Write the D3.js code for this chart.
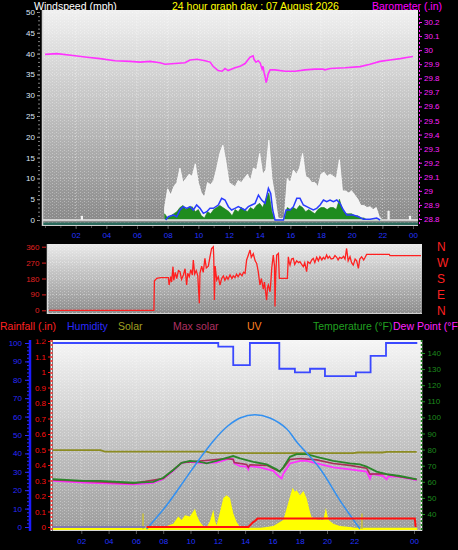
<!DOCTYPE html>
<html><head><meta charset="utf-8">
<script src="https://cdn.jsdelivr.net/npm/d3@7"></script>
<style>html,body{margin:0;padding:0;background:#000;}svg{display:block;}</style>
</head><body>
<svg id="chart" width="458" height="550"></svg>
<script>
// ---------------- DATA ----------------
const titleLeft = "Windspeed (mph)";
const titleCenter = "24 hour graph day : 07 August 2026";
const titleRight = "Barometer (.in)";

const hourTicks = [2,4,6,8,10,12,14,16,18,20,22,24];
const windTicks = [0,5,10,15,20,25,30,35,40,45,50];
const baroTicks = [28.8,28.9,29.0,29.1,29.2,29.3,29.4,29.5,29.6,29.7,29.8,29.9,30.0,30.1,30.2];
const dirTicks = [0,90,180,270,360];
const compassDegrees = [360,270,180,90,0];
const compassLabels = ["N","W","S","E","N"];
const humTicks = [0,10,20,30,40,50,60,70,80,90,100];
const rainTicks = [0,0.1,0.2,0.3,0.4,0.5,0.6,0.7,0.8,0.9,1.0,1.1,1.2];
const tempTicks = [40,50,60,70,80,90,100,110,120,130,140];
const legendLabels = ["Rainfall (.in)","Humidity","Solar","Max solar","UV","Temperature (°F)","Dew Point (°F"];

// Barometer (inHg)
const baroHours = [0,0.78,1.96,2.74,3.59,4.57,5.54,6.2,6.85,7.5,7.83,8.48,9.13,9.46,9.92,10.44,10.77,10.96,11.29,11.55,11.74,11.94,12.39,12.72,13.05,13.37,13.57,13.63,13.76,13.9,14.03,14.16,14.22,14.29,14.35,14.42,14.48,14.55,14.68,15.0,15.66,16.31,16.96,17.61,18.13,18.26,18.6,19.57,20.55,21.2,21.85,22.5,23.16,23.68,24.0];
const baroValues = [29.97,29.975,29.96,29.95,29.94,29.925,29.92,29.915,29.92,29.91,29.90,29.905,29.91,29.93,29.935,29.925,29.915,29.885,29.855,29.85,29.87,29.855,29.875,29.885,29.905,29.95,29.96,29.935,29.915,29.925,29.91,29.865,29.885,29.84,29.815,29.77,29.79,29.83,29.86,29.86,29.85,29.85,29.86,29.865,29.865,29.86,29.87,29.875,29.883,29.90,29.92,29.93,29.94,29.95,29.955];

// Wind gust / speed, sampled every 0.2 h starting 07:48
const windStart = 7.8, windStep = 0.2;
const gustValues = [3,7.5,6,8,9,12.5,9,10,11,10.5,13.5,9,6.5,5.5,9,8.5,9.5,12.5,16,18,14,9,8.5,8,9.5,9,10,11,9.5,12.5,12,16,11,12,19.2,10,5.5,0.5,0.3,0.5,10,9,12,11,12.5,16,10.5,10,9,9,8,11,11.5,10.5,11,10.5,10,14.5,7,7,6.5,7,6,5,3.5,3.5,3,3.2,2.5,3,0.8,0];
const speedValues = [1.5,0.5,1,1.5,2,3,3.5,2.5,3,3.2,2,2.5,1,0.5,2,1.5,2.5,3,3.5,3,2.5,2,1,2.5,2,3,2.5,2,3,2.5,3.5,4,3,5,6.5,2,0,0,0,0,3,2.5,3,2.5,3.5,3,2,2.5,2,1.5,2.5,3,3,2.5,3,3,2.5,5,2.5,1.5,1.5,1.5,1,1,0.5,0.5,0,0,0,0,0,0];
const gustExtraHours = [2.4,22.4,23.8];
const gustExtraValues = [1,2.2,1];

// Average wind speed
const avgHours = [7.87,8.04,8.37,8.59,8.8,9.02,9.24,9.46,9.67,9.89,10.11,10.33,10.55,10.76,10.98,11.3,11.52,11.74,11.96,12.17,12.39,12.61,12.83,13.04,13.26,13.48,13.7,13.92,14.13,14.35,14.57,14.72,14.85,15.0,15.55,15.72,15.98,16.2,16.42,16.63,16.85,17.07,17.29,17.5,17.72,17.94,18.16,18.37,18.59,18.81,19.03,19.24,19.46,19.68,20.1,20.44,20.76,21.2,21.63,21.85];
const avgValues = [0,0.8,1.2,0.8,2.4,3.2,2.8,3.2,2.4,3.6,2.8,1.6,2,2.8,2.8,3.6,5.2,4.8,3.2,2.4,2.8,3.2,2.8,2.4,3.2,3.6,4,6,4.8,4,7.6,6.4,2.4,0,0,2.4,2.4,3.2,5.2,5.2,3.6,3.2,2.8,2.4,2.8,3.6,4.8,4.4,4.8,4.4,4.8,4,2.4,1.2,1.2,0.8,0.2,0.2,0.5,0];

// Wind direction (degrees)
const dirHours = [0,6.77,6.8,6.95,7.2,7.7,7.75,7.85,7.91,8.0,8.05,8.15,8.24,8.35,8.45,8.55,8.67,8.78,8.88,8.95,9.05,9.15,9.25,9.31,9.4,9.5,9.6,9.7,9.74,9.85,9.95,10.06,10.15,10.28,10.38,10.49,10.6,10.63,10.67,10.72,10.82,10.92,11.03,11.14,11.25,11.35,11.46,11.55,11.68,11.8,11.89,12.0,12.1,12.2,12.32,12.45,12.55,12.65,12.75,12.85,12.97,13.05,13.18,13.3,13.4,13.5,13.61,13.7,13.83,13.9,14.04,14.1,14.15,14.26,14.32,14.37,14.47,14.55,14.58,14.63,14.69,14.8,14.86,15.38,15.44,15.5,15.55,15.65,15.76,15.85,15.98,16.1,16.19,16.3,16.41,16.5,16.62,16.7,16.84,16.95,17.05,17.15,17.27,17.38,17.48,17.6,17.7,17.8,17.91,18.0,18.1,18.2,18.34,18.45,18.56,18.65,18.75,18.88,19.0,19.1,19.2,19.3,19.42,19.52,19.63,19.75,19.85,19.96,20.05,20.17,20.3,20.4,20.49,21.95,22.0,24];
const dirValues = [0,0,166,181,185,185,143,190,160,247,170,215,180,225,219,175,200,235,143,210,190,230,200,285,205,225,195,40,210,250,215,294,240,250,300,350,360,300,58,250,171,190,143,180,195,170,190,175,200,180,195,185,205,190,209,195,215,209,285,310,341,300,320,280,265,219,143,180,120,160,58,130,143,105,170,237,313,250,21,200,313,322,181,181,303,270,256,290,294,260,280,270,275,260,247,270,219,275,265,285,294,270,300,280,303,285,300,290,313,295,305,290,294,310,300,285,300,294,305,290,350,280,303,270,256,290,280,237,290,303,285,300,316,316,309,309];

// Humidity (%)
const humHours = [0,10.85,11.82,12.9,14.81,15.82,16.8,17.77,19.78,20.73,21.73,23.76];
const humValues = [100,98,88,100,86,84,86,82,84,93,100,100];

// Rainfall (in)
const rainHours = [6.2,12.8,12.9,13.0,13.1,13.25,13.4,23.6,23.65];
const rainValues = [0,0,0.01,0.02,0.03,0.04,0.055,0.055,0];
const nightHours = [0,6.1];
const nightValues = [0,0];

// Solar radiation (W/m2)
const solarHours = [6.2,6.85,7.5,7.93,8.15,8.26,8.47,8.69,9.01,9.34,9.45,9.66,9.88,10.1,10.31,10.53,10.64,10.74,10.85,10.96,11.18,11.39,11.61,11.82,12.04,12.26,12.69,13.12,13.99,14.42,14.85,15.07,15.28,15.5,15.67,15.82,15.93,16.15,16.37,16.58,16.8,16.9,17.23,17.66,17.83,17.99,18.31,18.74,19.39,20.04];
const solarValues = [0,6,19,34,66,80,58,88,80,131,90,45,19,13,50,124,55,25,66,110,200,217,200,101,45,13,0,0,13,19,45,58,131,208,266,240,250,217,245,198,110,77,62,58,135,60,34,19,13,0];
const solarBaseHours = [0,23.76];
const solarBaseValues = [0,0];
const sunHours = [5.97,20.17];
const sunMarkerValue = 100;

// Max solar (W/m2)
const maxSolarHours = [6.2,7.5,8.8,9.66,10.53,11.39,12.26,13.23,14.2,15.28,15.93,17.44,18.74,20.04];
const maxSolarValues = [0,153,335,455,568,658,716,737,716,647,563,390,185,0];

// Temperatures (°F)
const tempHours = [0.04,2.1,3.18,5.34,6.64,7.28,7.93,8.47,9.01,9.66,10.1,10.74,11.39,11.82,12.26,13.12,13.99,14.63,14.85,15.07,15.5,15.93,16.58,17.23,18.31,19.39,20.04,20.47,21.12,21.77,22.63,23.72];
const tempValues = [61.7,60.6,60.6,59.4,60,62.5,67.3,71.8,73,72.4,71.4,73,74.9,76,74.5,72.4,70.8,67.7,66.3,69,75.5,77.2,77.2,75.5,73,71.4,70.8,69.4,66.3,64.8,63.6,61.5];
const dewHours = [0.04,2.1,5.34,6.64,7.28,7.93,8.47,9.01,9.66,10.74,11.61,11.82,11.89,12.26,12.69,12.8,12.86,13.55,14.42,14.81,14.96,15.07,15.5,16.15,16.58,17.23,18.31,19.39,20.47,20.69,20.8,21.55,21.77,21.88,22.63,23.72];
const dewValues = [60.6,59.5,58.4,59.4,61.7,66.8,71.8,72.4,71.8,72,74.5,74,71.4,69.8,69.4,67.7,69.8,69,66.8,63.1,62,65,71.4,73,73,71.4,69,67.7,66.3,62,65,63.6,61.5,63.4,63.1,61.1];
const feelHours = [0.04,5.34,7.28,8.47,11.39,11.82,11.89,12.69,12.8,12.91,13.99,14.81,15.07,15.5,16.15,17.23,18.31,19.39,20.47,20.69,21.55,22.63,23.72];
const feelValues = [61.2,59,62,71.8,74.5,73.9,72,70.8,69,70.5,70.2,66.3,68.5,73.9,74.5,73.6,71.4,70.2,68.5,64.8,65,63.1,61.5];
const oliveHours = [0.04,3.2,3.5,10.1,10.4,19.6,19.9,21.5,21.8,23.72];
const oliveValues = [79.7,79.7,78.8,78.8,77.8,77.8,78.2,78.2,78.6,78.6];

// ---------------- DRAWING ----------------
const FONT = '"Liberation Sans", Arial, Helvetica, sans-serif';
const svg = d3.select("#chart").attr("font-family", FONT);
const defs = svg.append("defs");
function grad(id, stops) {
  const g = defs.append("linearGradient").attr("id", id)
    .attr("x1", 0).attr("y1", 0).attr("x2", 0).attr("y2", 1);
  stops.forEach(([o, c]) => g.append("stop").attr("offset", o).attr("stop-color", c));
}
grad("bg1", [[0, "#f0f0f0"], [0.45, "#c2c2c2"], [1, "#878787"]]);
grad("bg2", [[0, "#eaeaea"], [1, "#8c8c8c"]]);
grad("bg3", [[0, "#f6f6f6"], [0.5, "#c6c6c6"], [1, "#9c9c9c"]]);
// subtle dotted texture
const pat = defs.append("pattern").attr("id", "dots").attr("width", 4).attr("height", 3).attr("patternUnits", "userSpaceOnUse");
pat.append("rect").attr("x", 0).attr("y", 0).attr("width", 1).attr("height", 1).attr("fill", "#ffffff").attr("fill-opacity", 0.35);
pat.append("rect").attr("x", 2).attr("y", 1).attr("width", 1).attr("height", 1).attr("fill", "#ffffff").attr("fill-opacity", 0.2);
function clip(id, p) {
  defs.append("clipPath").attr("id", id).append("rect")
    .attr("x", p.l).attr("y", p.t).attr("width", p.r - p.l).attr("height", p.b - p.t);
}
const P1 = {l: 42, r: 418, t: 10, b: 226};
const P2 = {l: 47, r: 422, t: 244, b: 314};
const P3 = {l: 53, r: 421, t: 340, b: 531};
clip("c1", P1); clip("c2", P2); clip("c3", P3);
// rain axis group is translated by 50px; clip in its local coordinates
defs.append("clipPath").attr("id", "cRain").append("rect")
  .attr("x", -50).attr("y", 339.5).attr("width", 60).attr("height", 220);

const hourFmt = d => String(d % 24).padStart(2, "0");
const oneDec = d => String(Math.round(d * 10) / 10);
function plain(g, size, color) {
  g.attr("font-size", size).attr("font-family", FONT);
  g.select(".domain").remove();
  g.selectAll(".tick text").attr("fill", color);
  return g;
}
function panelBg(p, fill) {
  svg.append("rect").attr("x", p.l).attr("y", p.t).attr("width", p.r - p.l).attr("height", p.b - p.t).attr("fill", fill);
  svg.append("rect").attr("x", p.l).attr("y", p.t).attr("width", p.r - p.l).attr("height", p.b - p.t).attr("fill", "url(#dots)");
}

// Titles
svg.append("text").attr("x", 34).attr("y", 9.5).attr("font-size", 10.5).attr("fill", "#ffffff").text(titleLeft);
svg.append("text").attr("x", 172).attr("y", 9.5).attr("font-size", 10.5).attr("fill", "#ffff00").text(titleCenter);
svg.append("text").attr("x", 372).attr("y", 9.5).attr("font-size", 10.5).attr("fill", "#ff00ff").text(titleRight);

// ===== Panel 1: wind + barometer =====
const x1 = d3.scaleLinear().domain([0, 24]).range([45, 413]);
const yW = d3.scaleLinear().domain([0, 50]).range([220, 12]);
const yB = d3.scaleLinear().domain([28.8, 30.2]).range([219, 22]);

panelBg(P1, "url(#bg1)");
const p1 = svg.append("g").attr("clip-path", "url(#c1)");
p1.selectAll("line.hg").data(windTicks.slice(1)).join("line")
  .attr("x1", P1.l).attr("x2", P1.r).attr("y1", d => yW(d)).attr("y2", d => yW(d))
  .attr("stroke", "#ffffff").attr("stroke-opacity", 0.35).attr("stroke-dasharray", "1,2");
p1.selectAll("line.vg").data(hourTicks.slice(0, -1)).join("line")
  .attr("x1", d => x1(d)).attr("x2", d => x1(d)).attr("y1", P1.t).attr("y2", P1.b)
  .attr("stroke", "#ffffff").attr("stroke-opacity", 0.45).attr("stroke-dasharray", "1,2");

const windData = gustValues.map((g, i) => ({h: windStart + i * windStep, g, s: speedValues[i]}));
p1.append("path").datum(windData)
  .attr("d", d3.area().x(d => x1(d.h)).y0(yW(0)).y1(d => yW(d.g)))
  .attr("fill", "#f4f4f4").attr("stroke", "#ffffff").attr("stroke-width", 0.8);
p1.selectAll("rect.gx").data(gustExtraHours.map((h, i) => ({h, g: gustExtraValues[i]}))).join("rect")
  .attr("x", d => x1(d.h) - 1).attr("width", 2.2)
  .attr("y", d => yW(d.g)).attr("height", d => yW(0) - yW(d.g)).attr("fill", "#f4f4f4");
p1.append("path").datum(windData)
  .attr("d", d3.area().x(d => x1(d.h)).y0(yW(0)).y1(d => yW(d.s)))
  .attr("fill", "#1f8c1f").attr("stroke", "#1a7a1a").attr("stroke-width", 0.6);
// zero line and bottom strip
p1.append("line").attr("x1", P1.l).attr("x2", P1.r).attr("y1", yW(0)).attr("y2", yW(0))
  .attr("stroke", "#e6e6e6").attr("stroke-width", 1.6);
p1.append("rect").attr("x", P1.l).attr("width", P1.r - P1.l).attr("y", yW(0) + 2.5).attr("height", 3).attr("fill", "#2b6a5c");
// average line
p1.append("path").datum(avgHours.map((h, i) => [h, avgValues[i]]))
  .attr("d", d3.line().x(d => x1(d[0])).y(d => yW(d[1])))
  .attr("fill", "none").attr("stroke", "#2a3cff").attr("stroke-width", 1.5);
// barometer
p1.append("path").datum(baroHours.map((h, i) => [h, baroValues[i]]))
  .attr("d", d3.line().x(d => x1(d[0])).y(d => yB(d[1])))
  .attr("fill", "none").attr("stroke", "#ff33ff").attr("stroke-width", 1.6);
// borders
svg.append("line").attr("x1", P1.l + 0.5).attr("x2", P1.l + 0.5).attr("y1", P1.t).attr("y2", P1.b).attr("stroke", "#d4d4d4").attr("stroke-width", 1.5);
svg.append("line").attr("x1", P1.l).attr("x2", P1.r).attr("y1", P1.b - 0.5).attr("y2", P1.b - 0.5).attr("stroke", "#d0d0d0");

// axes panel 1
const a1 = svg.append("g").attr("transform", "translate(40,0)")
  .call(d3.axisLeft(yW).tickValues(windTicks).tickSize(3).tickPadding(2));
plain(a1, 8, "#dde6f7");
a1.selectAll(".tick line").attr("stroke", "#a0a0a0");
svg.append("g").attr("transform", "translate(40,0)")
  .call(d3.axisLeft(yW).ticks(50).tickSize(2).tickFormat(""))
  .call(g => g.select(".domain").remove()).selectAll("line").attr("stroke", "#808080");
const b1 = svg.append("g").attr("transform", "translate(419,0)")
  .call(d3.axisRight(yB).tickValues(baroTicks).tickSize(3).tickPadding(2).tickFormat(oneDec));
plain(b1, 8, "#ff22ff");
b1.selectAll(".tick line").attr("stroke", "#ff22ff");
svg.append("line").attr("x1", 419.5).attr("x2", 419.5).attr("y1", P1.t).attr("y2", P1.b)
  .attr("stroke", "#ff22ff").attr("stroke-dasharray", "2,2");
const xa1 = svg.append("g").attr("transform", `translate(0,${P1.b})`)
  .call(d3.axisBottom(x1).tickValues(hourTicks).tickSize(3).tickPadding(3.5).tickFormat(hourFmt));
plain(xa1, 8, "#2233ff");
xa1.selectAll(".tick line").attr("stroke", "#555");
svg.append("g").attr("transform", `translate(0,${P1.b})`)
  .call(d3.axisBottom(x1).ticks(24).tickSize(2).tickFormat(""))
  .call(g => g.select(".domain").remove()).selectAll("line").attr("stroke", "#444");

// ===== Panel 2: wind direction =====
const x2 = d3.scaleLinear().domain([0, 24]).range([49, 421]);
const yD = d3.scaleLinear().domain([0, 360]).range([310.3, 246.7]);
panelBg(P2, "url(#bg2)");
const p2 = svg.append("g").attr("clip-path", "url(#c2)");
p2.selectAll("line.hg").data(dirTicks.slice(1, -1)).join("line")
  .attr("x1", P2.l).attr("x2", P2.r).attr("y1", d => yD(d)).attr("y2", d => yD(d))
  .attr("stroke", "#ffffff").attr("stroke-opacity", 0.35).attr("stroke-dasharray", "1,2");
p2.append("path").datum(dirHours.map((h, i) => [h, dirValues[i]]))
  .attr("d", d3.line().x(d => x2(d[0])).y(d => yD(d[1])))
  .attr("fill", "none").attr("stroke", "#ff2020").attr("stroke-width", 1.3);
svg.append("line").attr("x1", P2.l + 0.5).attr("x2", P2.l + 0.5).attr("y1", P2.t).attr("y2", P2.b).attr("stroke", "#d8d8d8").attr("stroke-width", 1.5);
svg.append("line").attr("x1", P2.l).attr("x2", P2.r).attr("y1", P2.b - 0.5).attr("y2", P2.b - 0.5).attr("stroke", "#d0d0d0");
const a2 = svg.append("g").attr("transform", "translate(46,0)")
  .call(d3.axisLeft(yD).tickValues(dirTicks).tickSize(4).tickPadding(2.5));
plain(a2, 8, "#e02020");
a2.selectAll(".tick line").attr("stroke", "#e02020");
svg.selectAll("text.compass").data(compassLabels).join("text")
  .attr("x", 437).attr("y", (d, i) => yD(compassDegrees[i])).attr("dy", "0.36em")
  .attr("font-size", 12).attr("fill", "#ff2020").text(d => d);

// ===== Legend row =====
const legendColors = ["#ff2020", "#2a2aff", "#a0a020", "#b03062", "#ff8020", "#20a020", "#ff22ff"];
const legendX = [0, 67, 118, 173, 247, 313, 393];
svg.selectAll("text.legend").data(legendLabels).join("text")
  .attr("x", (d, i) => legendX[i]).attr("y", 330).attr("font-size", 10.5)
  .attr("fill", (d, i) => legendColors[i]).text(d => d);

// ===== Panel 3 =====
const x3 = d3.scaleLinear().domain([0, 24]).range([51, 421]);
const xL = d3.scaleLinear().domain([0, 22, 24]).range([54, 354.3, 414]);
const yH = d3.scaleLinear().domain([0, 100]).range([527, 343]);
const yR = d3.scaleLinear().domain([0, 1.2]).range([527, 341]);
const yT = d3.scaleLinear().domain([30, 140]).range([530.1, 353]);
const yS = d3.scaleLinear().domain([0, 1200]).range([529, 343]);

panelBg(P3, "url(#bg3)");
const p3 = svg.append("g").attr("clip-path", "url(#c3)");
p3.selectAll("line.vg").data(hourTicks.slice(0, -1)).join("line")
  .attr("x1", d => xL(d)).attr("x2", d => xL(d)).attr("y1", P3.t).attr("y2", P3.b)
  .attr("stroke", "#ffffff").attr("stroke-opacity", 0.35).attr("stroke-dasharray", "1,2");
p3.selectAll("line.hg").data(humTicks.slice(1, -1)).join("line")
  .attr("x1", P3.l).attr("x2", P3.r).attr("y1", d => yH(d)).attr("y2", d => yH(d))
  .attr("stroke", "#ffffff").attr("stroke-opacity", 0.25).attr("stroke-dasharray", "1,2");

const lineT = d3.line().x(d => x3(d[0])).y(d => yT(d[1]));
function tline(hours, vals, color, w) {
  p3.append("path").datum(hours.map((h, i) => [h, vals[i]])).attr("d", lineT)
    .attr("fill", "none").attr("stroke", color).attr("stroke-width", w);
}
tline(oliveHours, oliveValues, "#8c8c22", 1.8);
tline(dewHours, dewValues, "#ff33ff", 1.8);
tline(feelHours, feelValues, "#a8305a", 1.6);
tline(tempHours, tempValues, "#2a862a", 1.8);

// solar
p3.append("path").datum(solarBaseHours.map((h, i) => [h, solarBaseValues[i]]))
  .attr("d", d3.line().x(d => x3(d[0])).y(d => yS(d[1])))
  .attr("stroke", "#ffff00").attr("stroke-width", 2.5).attr("fill", "none");
p3.append("path").datum(solarHours.map((h, i) => [h, solarValues[i]]))
  .attr("d", d3.area().x(d => x3(d[0])).y0(yS(0)).y1(d => yS(d[1])))
  .attr("fill", "#ffff00");
p3.selectAll("line.sun").data(sunHours).join("line")
  .attr("x1", d => x3(d)).attr("x2", d => x3(d)).attr("y1", yS(0)).attr("y2", yS(sunMarkerValue))
  .attr("stroke", "#c8c040").attr("stroke-width", 1.6);
// max solar curve
p3.append("path").datum(maxSolarHours.map((h, i) => [h, maxSolarValues[i]]))
  .attr("d", d3.line().curve(d3.curveCatmullRom).x(d => x3(d[0])).y(d => yS(d[1])))
  .attr("fill", "none").attr("stroke", "#3390f0").attr("stroke-width", 1.5);
// night base line and rain
p3.append("path").datum(nightHours.map((h, i) => [h, nightValues[i]]))
  .attr("d", d3.line().x(d => x3(d[0])).y(d => yR(d[1])))
  .attr("fill", "none").attr("stroke", "#7468b8").attr("stroke-width", 1.6);
p3.append("path").datum(rainHours.map((h, i) => [h, rainValues[i]]))
  .attr("d", d3.line().x(d => x3(d[0])).y(d => yR(d[1])))
  .attr("fill", "none").attr("stroke", "#ff1010").attr("stroke-width", 2);
// humidity
p3.append("path").datum(humHours.map((h, i) => [h, humValues[i]]))
  .attr("d", d3.line().curve(d3.curveStepAfter).x(d => x3(d[0])).y(d => yH(d[1])))
  .attr("fill", "none").attr("stroke", "#3a48ff").attr("stroke-width", 1.8);
svg.append("line").attr("x1", P3.l).attr("x2", P3.r).attr("y1", P3.b - 0.5).attr("y2", P3.b - 0.5).attr("stroke", "#d8d8d8");

// humidity axis
const ah = svg.append("g").attr("transform", "translate(29,0)")
  .call(d3.axisLeft(yH).tickValues(humTicks).tickSize(4).tickPadding(3));
plain(ah, 8, "#2a2aff");
ah.selectAll(".tick line").attr("stroke", "#2a2aff");
svg.append("g").attr("transform", "translate(29,0)")
  .call(d3.axisLeft(yH).ticks(50).tickSize(2).tickFormat(""))
  .call(g => g.select(".domain").remove()).selectAll("line").attr("stroke", "#2a2aff");
svg.append("line").attr("x1", 30).attr("x2", 30).attr("y1", P3.t).attr("y2", P3.b).attr("stroke", "#1a1aff").attr("stroke-width", 2.5);
// rain axis
const ar = svg.append("g").attr("transform", "translate(50,0)").attr("clip-path", "url(#cRain)")
  .call(d3.axisLeft(yR).tickValues(rainTicks).tickSize(2).tickPadding(2).tickFormat(oneDec));
plain(ar, 8, "#ff1010");
ar.selectAll(".tick line").attr("stroke", "#ff1010");
svg.append("line").attr("x1", 51.5).attr("x2", 51.5).attr("y1", P3.t).attr("y2", P3.b).attr("stroke", "#f2f2f2").attr("stroke-width", 2);
svg.append("line").attr("x1", 51.5).attr("x2", 51.5).attr("y1", P3.t).attr("y2", P3.b).attr("stroke", "#ff4040").attr("stroke-width", 2).attr("stroke-dasharray", "2,2");
// temperature axis
const at = svg.append("g").attr("transform", "translate(422,0)")
  .call(d3.axisRight(yT).tickValues(tempTicks).tickSize(3).tickPadding(2.5));
plain(at, 8, "#1d8a1d");
at.selectAll(".tick line").attr("stroke", "#1d8a1d");
svg.append("line").attr("x1", 421.5).attr("x2", 421.5).attr("y1", P3.t).attr("y2", P3.b).attr("stroke", "#eeeeee").attr("stroke-width", 1.5);
svg.append("line").attr("x1", 421.5).attr("x2", 421.5).attr("y1", P3.t).attr("y2", P3.b).attr("stroke", "#1d8a1d").attr("stroke-width", 1.5).attr("stroke-dasharray", "2,2");
// bottom hour axis
const xa3 = svg.append("g").attr("transform", `translate(0,${P3.b})`)
  .call(d3.axisBottom(xL).tickValues(hourTicks).tickSize(3).tickPadding(4).tickFormat(hourFmt));
plain(xa3, 8, "#2233ff");
xa3.selectAll(".tick line").attr("stroke", "#555");
</script>
</body></html>
